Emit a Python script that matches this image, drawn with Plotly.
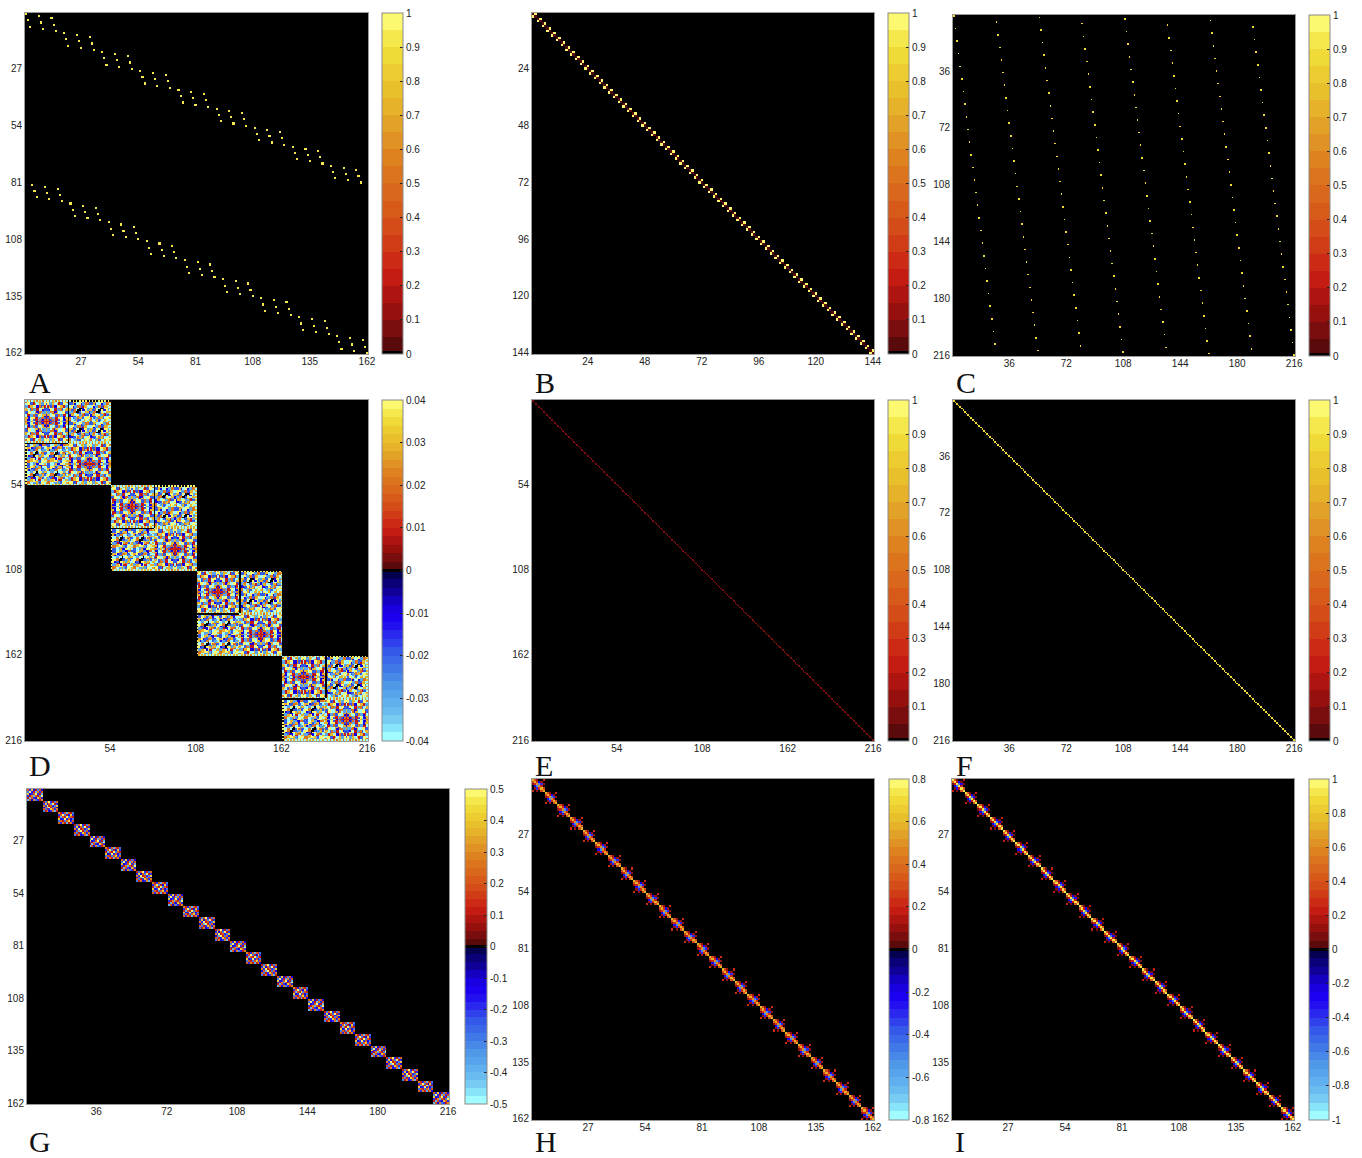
import numpy as np
import plotly.graph_objects as go

# ---------- chart values ----------
A_TILE_COLS = [0, 1, 2, 6, 7, 8, 12, 13, 14]
A_TILE_ROWS = [0, 3, 6, 1, 4, 7, 2, 5, 8]
A_TOP_COL_STARTS = [1, 19, 37, 55, 73, 91, 109, 127, 145]
A_TOP_ROW_STARTS = [1, 10, 19, 28, 37, 46, 55, 64, 73]
A_LOW_COL_STARTS = [4, 22, 40, 58, 76, 94, 112, 130, 148]
A_LOW_ROW_STARTS = [82, 91, 100, 109, 118, 127, 136, 145, 154]
A_VALUE = 0.92

B_TILE = [[0.03, 0.95], [0.95, 0.03]]
C_STRIPE_COLS = [1, 28, 55, 82, 109, 136, 163, 190]
C_STRIPE_ROWS = [1, 5, 2, 6, 3, 7, 4, 8]
C_VALUE = 0.85
E_VALUE = 0.07
F_VALUE = 0.85

# D tile quadrants: a=-0.04 b=-0.03 c=-0.02 d=-0.01 0 1=0.01 ... 4=0.04
D_CODES = {"a": -4, "b": -3, "c": -2, "d": -1, "0": 0, "1": 1, "2": 2, "3": 3, "4": 4}
D_DIAG_QUAD = [
    "a3a2a3a2a3a2a3",
    "244cc1aa33bb44",
    "a44cc13aa3bb4c",
    "bb13344dd2cc1a",
    "bb133a4dd2c31a",
    "3aac22b11a44cc",
    "33ac2bb11a4dcc",
    "cc44aa3dd22bb3",
    "c144aa33d2abb3",
    "a11bb2cc44a33d",
    "a1dbb2cc4aa3d1",
    "33da4411bb22c1",
    "3dda4c11b2cd21",
    "22bb3a3d2c1111",
]
D_OFF_QUAD = [
    "04040404040404",
    "0cc33aa44bb22c",
    "4cc3daa4dbb22c",
    "0a44bb22cc33aa",
    "4a4dbb22c133aa",
    "033cc4a00d44bb",
    "43cc2a004dd4b3",
    "0bb2200c4aa33d",
    "4b32aacc331bbd",
    "0d33a44bb21cc4",
    "4ddcc42b32aa44",
    "02acbb233ca44a",
    "42aab3ccaa34a3",
    "0c44a3caa33a3a",
]
D_OFF_FAR_EDGE = "a3a3a3a3a3a3a3a3a3a3a3a3a3a"
D_OFF_NEAR_EDGE = "040404040404040404040404040"

# G tiles, tenths, 6 rows by 8 columns
G_TILES = [
    [[2, -2, 4, -1, 1, -3, 2, -1],
     [-3, 5, -2, 1, -4, 3, -2, 2],
     [4, -1, -2, 2, 5, -2, 1, -4],
     [-2, 1, 3, -4, 2, 1, -3, 5],
     [1, -4, 2, -2, -1, 4, 2, -2],
     [-4, 2, -1, 3, -3, -2, 1, 3]],
    [[1, -3, 2, 5, -2, 1, -3, 2],
     [-2, 4, -1, 2, -3, 5, 1, -2],
     [3, -2, 5, 1, 2, -2, -3, 4],
     [-1, 2, -4, 5, 1, -3, 2, -1],
     [2, -3, 1, -2, 4, 2, -2, 3],
     [-3, 1, 3, -1, -2, 3, -4, 1]],
    [[3, 1, -2, 2, -4, 2, 1, -3],
     [-2, 2, 5, -3, 1, -1, 4, -2],
     [1, -4, 2, 1, 5, -3, 2, 1],
     [4, -1, -2, 5, -2, 2, -1, -3],
     [-3, 2, 1, -3, 2, 4, -2, 2],
     [2, -2, 3, 1, -4, 1, 3, -1]],
]
G_SEQUENCE = [0, 1, 2, 1, 0, 2, 0, 1, 2, 0, 2, 1, 1, 0, 2, 1, 0, 2, 0, 1, 2, 2, 0, 1, 1, 2, 0]

# H and I tiles, tenths, 6 by 6
H_TILE = [
    [6, 3, 1, 0, 0, 2],
    [3, 6, 2, -2, 1, 0],
    [1, 2, 5, -5, -3, 1],
    [0, -2, -5, 5, 2, 0],
    [0, 1, -3, 2, 6, 3],
    [2, 0, 1, 0, 3, 6],
]
I_TILE = [
    [9, 4, 1, 0, 0, 2],
    [4, 9, 2, -2, 1, 0],
    [1, 2, 9, -6, -3, 1],
    [0, -2, -6, 9, 2, 0],
    [0, 1, -3, 2, 9, 4],
    [2, 0, 1, 0, 4, 9],
]

POS_COLORS = ["#5A0A0A", "#7A0E0E", "#96100E", "#AE1410", "#C41C12", "#CC2A14", "#D03C16", "#D44C18",
              "#D85A1A", "#DA681C", "#DC741E", "#DE8220", "#E09224", "#E2A228", "#E6B22A", "#E8C02C",
              "#ECCC30", "#F0DA38", "#F4E84C", "#FCF870"]
NEG_COLORS = ["#060050", "#0A0078", "#100098", "#1400C0", "#1800E0", "#1C00F0", "#2210F0", "#2A28EE",
              "#3040EC", "#3458E8", "#3A68E8", "#4078E8", "#4888E8", "#5098E8", "#58A4EC", "#60B0F0",
              "#68BCF0", "#78CCF4", "#88E4F8", "#A0FCFF"]

TICKS_27 = [27, 54, 81, 108, 135, 162]
TICKS_24 = [24, 48, 72, 96, 120, 144]
TICKS_36 = [36, 72, 108, 144, 180, 216]
TICKS_54 = [54, 108, 162, 216]
CB_UNIT = [0, .1, .2, .3, .4, .5, .6, .7, .8, .9, 1]
CB_UNIT_TXT = ["0", "0.1", "0.2", "0.3", "0.4", "0.5", "0.6", "0.7", "0.8", "0.9", "1"]
CB_D = [-.04, -.03, -.02, -.01, 0, .01, .02, .03, .04]
CB_D_TXT = ["-0.04", "-0.03", "-0.02", "-0.01", "0", "0.01", "0.02", "0.03", "0.04"]
CB_G = [-.5, -.4, -.3, -.2, -.1, 0, .1, .2, .3, .4, .5]
CB_G_TXT = ["-0.5", "-0.4", "-0.3", "-0.2", "-0.1", "0", "0.1", "0.2", "0.3", "0.4", "0.5"]
CB_H = [-.8, -.6, -.4, -.2, 0, .2, .4, .6, .8]
CB_H_TXT = ["-0.8", "-0.6", "-0.4", "-0.2", "0", "0.2", "0.4", "0.6", "0.8"]
CB_I = [-1, -.8, -.6, -.4, -.2, 0, .2, .4, .6, .8, 1]
CB_I_TXT = ["-1", "-0.8", "-0.6", "-0.4", "-0.2", "0", "0.2", "0.4", "0.6", "0.8", "1"]


# ---------- matrices ----------
def panel_a():
    z = np.zeros((162, 162))
    for cs, rs in ((A_TOP_COL_STARTS, A_TOP_ROW_STARTS), (A_LOW_COL_STARTS, A_LOW_ROW_STARTS)):
        for c0, r0 in zip(cs, rs):
            for dc, dr in zip(A_TILE_COLS, A_TILE_ROWS):
                z[r0 + dr - 1, c0 + dc - 1] = A_VALUE
    return z


def panel_b():
    return np.kron(np.eye(72), np.array(B_TILE))


def panel_c():
    z = np.zeros((216, 216))
    for c0, r0 in zip(C_STRIPE_COLS, C_STRIPE_ROWS):
        for k in range(27):
            z[r0 + 8 * k - 1, c0 + k - 1] = C_VALUE
    return z


def decode(rows):
    return np.array([[D_CODES[ch] for ch in r] for r in rows], dtype=float) / 100


def mirror(q):
    top = np.hstack([q, q[:, -2::-1]])
    return np.vstack([top, top[-2::-1, :]])


def repeat_quad(q):
    top = np.hstack([q, q[:, 1:]])
    return np.vstack([top, top[1:, :]])


def panel_d():
    t1 = mirror(decode(D_DIAG_QUAD))
    t2 = repeat_quad(decode(D_OFF_QUAD))
    far = decode([D_OFF_FAR_EDGE])[0]
    t2[:, -1] = far
    t2[-1, :] = far
    t2[0, :] = decode([D_OFF_NEAR_EDGE])[0]
    t2[:, 0] = 0
    block = np.block([[t1, t2], [t2.T, t1]])
    z = np.zeros((216, 216))
    for k in range(4):
        z[54 * k:54 * k + 54, 54 * k:54 * k + 54] = block
    return z


def panel_g():
    z = np.zeros((162, 216))
    for k, v in enumerate(G_SEQUENCE):
        z[6 * k:6 * k + 6, 8 * k:8 * k + 8] = np.array(G_TILES[v]) / 10
    return z


def panel_tile(tile):
    return np.kron(np.eye(27), np.array(tile) / 10)


# ---------- styling ----------
def scale(two_sided):
    eps = 0.008
    stops = []
    lo = 0.5 if two_sided else 0.0
    span = 1 - lo
    if two_sided:
        eps = 0.004
        n = len(NEG_COLORS)
        for i, c in enumerate(reversed(NEG_COLORS)):
            stops += [[i / n * 0.5, c], [min((i + 1) / n * 0.5, 0.5 - eps), c]]
        stops += [[0.5 - eps, "#000000"], [0.5 + eps, "#000000"]]
    else:
        stops += [[0, "#000000"], [eps, "#000000"]]
    n = len(POS_COLORS)
    for i, c in enumerate(POS_COLORS):
        stops += [[max(lo + i / n * span, lo + eps), c], [lo + (i + 1) / n * span, c]]
    return stops


W, H = 1362, 1158
PANELS = [
    ("A", panel_a(), 25, 368, 13, 354, 382, 403, TICKS_27, TICKS_27, CB_UNIT, CB_UNIT_TXT, 0, 1, 27, 383),
    ("B", panel_b(), 532, 874, 13, 354, 888, 909, TICKS_24, TICKS_24, CB_UNIT, CB_UNIT_TXT, 0, 1, 533, 383),
    ("C", panel_c(), 953, 1295, 15, 356, 1309, 1330, TICKS_36, TICKS_36, CB_UNIT, CB_UNIT_TXT, 0, 1, 954, 383),
    ("D", panel_d(), 25, 368, 400, 741, 382, 403, TICKS_54, TICKS_54, CB_D, CB_D_TXT, -.04, .04, 27, 766),
    ("E", np.eye(216) * E_VALUE, 532, 874, 400, 741, 888, 909, TICKS_54, TICKS_54, CB_UNIT, CB_UNIT_TXT, 0, 1, 533, 766),
    ("F", np.eye(216) * F_VALUE, 953, 1295, 400, 741, 1309, 1330, TICKS_36, TICKS_36, CB_UNIT, CB_UNIT_TXT, 0, 1, 954, 766),
    ("G", panel_g(), 27, 449, 789, 1104, 465, 487, TICKS_36, TICKS_27, CB_G, CB_G_TXT, -.5, .5, 27, 1141),
    ("H", panel_tile(H_TILE), 532, 874, 779, 1120, 889, 909, TICKS_27, TICKS_27, CB_H, CB_H_TXT, -.8, .8, 533, 1141),
    ("I", panel_tile(I_TILE), 952, 1294, 779, 1120, 1309, 1329, TICKS_27, TICKS_27, CB_I, CB_I_TXT, -1, 1, 953, 1141),
]

TICK_FONT = dict(family="Liberation Sans, Arial, sans-serif", size=10, color="#222222")
fig = go.Figure()
layout = {}
annots = []
for i, (name, z, x0, x1, y0, y1, cx0, cx1, xt, yt, cbv, cbt, zmin, zmax, lx, ly) in enumerate(PANELS, start=1):
    rows, cols = z.shape
    fig.add_trace(go.Heatmap(
        z=z, x=np.arange(1, cols + 1), y=np.arange(1, rows + 1),
        xaxis=f"x{i}", yaxis=f"y{i}", zmin=zmin, zmax=zmax,
        colorscale=scale(zmin < 0), hoverinfo="skip",
        colorbar=dict(
            x=cx0 / W, xanchor="left", y=1 - (y0 + y1) / 2 / H, yanchor="middle",
            len=(y1 - y0) / H, lenmode="fraction", thickness=cx1 - cx0, thicknessmode="pixels",
            xpad=0, ypad=0, outlinecolor="#8a8a8a", outlinewidth=1, borderwidth=0,
            tickmode="array", tickvals=cbv, ticktext=cbt, ticks="inside", ticklen=3,
            tickcolor="#222222", tickfont=TICK_FONT),
    ))
    axis_common = dict(showgrid=False, zeroline=False, showline=True, linecolor="#9a9a9a", linewidth=1,
                       mirror=True, ticks="", tickfont=TICK_FONT, tickmode="array", tickangle=0)
    layout[f"xaxis{i}"] = dict(axis_common, domain=[x0 / W, x1 / W], range=[0.5, cols + 0.5],
                               tickvals=xt, ticktext=[str(t) for t in xt], anchor=f"y{i}",
                               ticklabelstandoff=-2)
    layout[f"yaxis{i}"] = dict(axis_common, domain=[1 - y1 / H, 1 - y0 / H], range=[rows + 0.5, 0.5],
                               tickvals=yt, ticktext=[str(t) for t in yt], anchor=f"x{i}")
    annots.append(dict(text=name, x=lx / W, y=1 - ly / H, xref="paper", yref="paper", xanchor="left",
                       yanchor="middle", showarrow=False,
                       font=dict(family="Liberation Serif, Times New Roman, serif", size=30, color="#111111")))

fig.update_layout(width=W, height=H, margin=dict(l=0, r=0, t=0, b=0, autoexpand=False),
                  paper_bgcolor="white", plot_bgcolor="black", annotations=annots, **layout)
fig.write_html("out.html", config={"displayModeBar": False}, post_script="document.body.style.margin='0';")
